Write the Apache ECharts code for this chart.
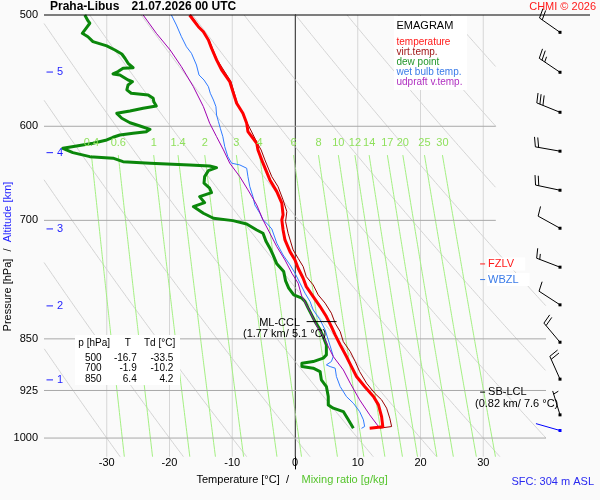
<!DOCTYPE html>
<html>
<head>
<meta charset="utf-8">
<title>Emagram Praha-Libus</title>
<script src="https://cdn.jsdelivr.net/npm/echarts@6/dist/echarts.min.js"></script>
<style>
  body { margin: 0; background: #fafafa; }
  #main { width: 600px; height: 500px; }
</style>
</head>
<body>
<div id="main"></div>
<script>
var myChart = echarts.init(document.getElementById('main'));
var FONT = '"Liberation Sans", Arial, sans-serif';

// sounding: T in °C, p in hPa
var tempP = [500,504.1,509.7,513.9,520.9,528.0,538.2,547.1,557.7,566.9,577.8,587.4,597.0,605.3,616.9,623.7,637.4,655.1,667.8,680.6,693.8,699.5,711.1,722.8,736.8,746.9,757.1,769.6,780.3,793.1,806.2,819.5,833.1,844.5,858.4,875.0,889.5,904.1,919.1,934.3,947.1,965.4,981.8,984.2];
var tempT = [-16.8,-16.2,-15.4,-14.6,-13.8,-13.3,-12.5,-11.7,-10.4,-9.9,-9.3,-8.3,-7.7,-7.5,-6.1,-5.9,-5.1,-4.0,-2.9,-2.1,-1.9,-2.1,-1.9,-1.6,-0.8,0.0,0.5,1.3,1.8,2.9,4.0,5.0,5.8,6.4,7.2,8.2,9.0,9.8,11.1,12.5,13.3,13.8,14.0,11.9];

var virtP = [500,509.7,520.9,538.2,557.7,577.8,597.0,616.9,623.7,634.0,651.6,662.4,676.9,690.0,701.4,714.9,734.7,744.9,755.1,767.6,778.1,790.9,801.7,815.0,828.4,840.0,853.9,867.9,882.2,896.8,914.0,929.1,939.3,952.2,967.9,981.3,983.9];
var virtT = [-16.6,-15.3,-13.7,-12.4,-10.2,-9.2,-7.6,-6.0,-5.4,-4.8,-3.7,-2.7,-1.9,-1.3,-1.5,-1.1,-0.3,0.5,1.3,1.8,2.9,3.7,4.8,5.8,6.4,7.2,7.7,8.8,9.6,10.3,11.4,12.7,13.8,14.6,15.1,15.4,13.5];

var dewP = [500,504.7,506.8,511.0,515.2,518.1,522.3,526.0,529.5,533.0,536.7,541.2,545.1,545.6,548.6,550.7,551.6,556.2,557.7,560.7,565.3,568.4,570.0,573.1,576.3,580.4,582.6,585.2,587.4,592.2,596.5,599.7,603.0,605.3,606.9,608.6,610.9,613.6,616.9,619.6,622.0,626.5,630.6,632.2,635.8,637.4,639.2,640.3,642.1,645.2,651.6,658.7,664.1,668.9,673.3,680.0,684.4,686.2,691.9,697.6,700.3,704.1,711.1,714.9,724.8,732.7,740.8,751.7,761.3,773.0,782.3,790.9,795.2,799.6,808.3,826.3,837.6,846.9,858.4,872.6,877.3,882.2,884.5,889.5,891.8,896.8,909.1,919.1,934.3,947.1,952.2,957.5,970.6,983.9];
var dewT = [-33.5,-33.0,-32.7,-33.3,-33.9,-33.0,-32.2,-30.0,-28.7,-27.6,-27.1,-26.6,-25.8,-27.4,-28.2,-29.0,-27.9,-26.6,-25.9,-26.6,-26.8,-26.1,-23.4,-22.6,-22.5,-22.1,-24.2,-26.3,-28.4,-27.6,-26.3,-24.7,-23.1,-23.7,-25.8,-27.9,-29.0,-30.0,-32.2,-34.8,-37.0,-35.4,-32.7,-29.0,-27.4,-23.1,-16.8,-13.6,-12.5,-13.8,-14.4,-14.5,-13.6,-13.3,-15.2,-14.4,-16.2,-16.3,-14.6,-13.0,-9.9,-7.7,-6.1,-5.1,-4.6,-4.0,-3.5,-2.9,-1.8,-1.5,-1.0,-0.2,1.1,1.6,2.1,3.2,4.0,4.5,5.0,5.0,4.5,2.9,1.1,1.1,2.9,4.0,4.2,5.0,5.3,5.3,6.1,7.7,8.5,9.3];

var wetP = [500,508.3,518.1,526.7,532.4,542.7,551.6,556.2,562.3,568.4,574.7,581.0,589.0,595.5,602.0,610.3,620.3,630.6,637.4,639.2,642.7,651.6,662.4,673.3,682.5,691.9,699.5,703.3,709.9,726.7,740.8,753.0,763.3,775.9,788.7,799.6,810.6,824.0,837.6,851.5,865.5,875.0,882.2,887.0,889.5,891.8,904.1,919.1,934.3,944.5,957.5,970.6,981.3,984.2];
var wetT = [-19.7,-18.9,-18.1,-17.3,-16.5,-15.7,-15.3,-14.5,-13.8,-13.5,-13.0,-12.6,-12.5,-12.2,-11.9,-11.5,-11.2,-10.7,-10.1,-8.8,-7.7,-7.5,-7.2,-6.7,-6.4,-5.6,-5.1,-4.5,-3.7,-2.9,-1.9,-0.8,0.0,0.8,1.6,2.4,2.9,4.0,4.8,5.3,5.8,6.1,5.8,5.0,5.6,6.4,6.6,7.2,8.2,9.3,10.3,10.9,11.1,10.6];

var updP = [500,515.2,529.5,544.2,562.3,581.0,597.0,610.3,623.7,637.4,651.6,665.9,682.5,699.5,714.9,730.8,746.9,763.3,775.9,793.1,812.9,830.8,846.9,875.0,894.3,914.0,939.3,962.7,983.9];
var updT = [-24.2,-22.1,-19.9,-18.1,-16.2,-14.6,-13.6,-12.5,-11.4,-10.4,-8.8,-7.5,-6.1,-5.1,-4.0,-2.9,-1.6,-0.5,0.5,1.1,2.4,3.4,4.5,6.1,7.7,8.8,10.3,11.9,13.5];

// wind barbs (last one = surface)
var windP = [514.4,549.2,586.4,625.0,666.3,709.1,755.8,803.9,854.7,908.0,962.7,987.7];
var windDir = [305,304,292,280,282,299,291,303,320,336,343,286];
var windSpd = [20,25,30,20,20,10,15,10,20,20,5,0];

// altitude marks
var altKm = [1,2,3,4,5];
var altP = [909.1,805.3,709.9,626.5,549.0];

// diagram furniture
var pLevels = [500,600,700,850,925,1000];
var xTicks = [-30,-20,-10,0,10,20,30];
var isoT = [-30,-20,-10,0,10,20,30];
var mixW = [0.4,0.6,1,1.4,2,3,4,6,8,10,12,14,17,20,25,30];
var thetaC = [-30,-20,-10,0,10,20,30,40,50,60,70,80,90,100];

// table
var tableP = ['500','700','850'];
var tableT = ['-16.7','-1.9','6.4'];
var tableTd = ['-33.5','-10.2','4.2'];

// levels
var lvlNames = ['FZLV','WBZL','SB-LCL'];
var lvlP = [751.8,771.3,927.5];
var lvlColors = ['#ff1a1a','#3a7be8','#000000'];
var cclP = 826.3, cclT = [1.85, 6.63];

var P_BOT = 1031;

function pairs(T, P) {
    return T.map(function (t, i) { return [t, P[i]]; });
}
// temperature where saturation mixing ratio equals w (g/kg)
function mixT(w, p) {
    var e = w / 1000 * p / (0.622 + w / 1000);
    var l = Math.log(e / 6.112);
    return 243.5 * l / (17.67 - l);
}
function rightT(p) { return p < 790 ? 32 : 40; }

var series = [];
function bgLine(data, color, z) {
    series.push({
        type: 'line', data: data, showSymbol: false, silent: true, animation: false,
        z: z || 1, lineStyle: { color: color, width: 1 }
    });
}
function curve(data, color, width, z) {
    series.push({
        type: 'line', data: data, showSymbol: false, silent: true, animation: false,
        z: z, lineStyle: { color: color, width: width, join: 'round' }
    });
}
function texts(coords, labels, fill, size, align, dx, dy, extra) {
    series.push({
        type: 'custom', data: coords, silent: true, animation: false, z: 20,
        renderItem: function (params, api) {
            var pt = api.coord([api.value(0), api.value(1)]);
            var st = { text: labels[params.dataIndex], fill: fill, font: size + 'px ' + FONT,
                align: align, verticalAlign: 'middle' };
            if (extra) Object.assign(st, extra);
            return { type: 'text', x: pt[0] + dx, y: pt[1] + dy, style: st };
        }
    });
}

// isotherms
isoT.forEach(function (t) {
    bgLine([[t, 500], [t, P_BOT]], t === 0 ? '#9a9a9a' : '#d6d6d6', t === 0 ? 3 : 1);
});
// dry adiabats
thetaC.forEach(function (th) {
    var d = [];
    for (var p = 500; p <= P_BOT; p += 1) {
        var t = (th + 273.15) * Math.pow(p / 1000, 0.286) - 273.15;
        if (t >= -40 && t <= rightT(p)) d.push([t, p]);
    }
    if (d.length > 1) bgLine(d, '#d4d4d4', 1);
});
// mixing ratio lines
mixW.forEach(function (w) {
    var d = [];
    for (var p = 629; p <= P_BOT; p += 3) d.push([mixT(w, p), p]);
    bgLine(d, '#a4f082', 2);
});
// isobars
pLevels.slice(1).forEach(function (p) {
    bgLine([[-40, p], [rightT(p), p]], '#a8a8a8', 3);
});

// profiles
curve(pairs(dewT, dewP), '#0b870b', 3, 6);
curve(pairs(wetT, wetP), '#2f7bff', 1, 7);
curve(pairs(updT, updP), '#a000b0', 1, 7);
curve(pairs(virtT, virtP), '#9a0000', 1, 8);
curve(pairs(tempT, tempP), '#ff0000', 3, 9);
curve([[cclT[0], cclP], [cclT[1], cclP]], '#000000', 1, 10);

// axis labels
texts(pLevels.map(function (p) { return [-40, p]; }), pLevels.map(String), '#000', 11, 'right', -6, 0);
texts(xTicks.map(function (t) { return [t, 1052]; }), xTicks.map(String), '#000', 11, 'center', 0, -6.5);
texts(mixW.map(function (w) { return [mixT(w, 629), 617]; }), mixW.map(String), '#8fe05c', 11, 'center', 0, 0);

// ML-CCL
texts([[cclT[0], cclP], [cclT[0], cclP]], ['ML-CCL', '(1.77 km/ 5.1 °C)'], '#000', 11, 'center', -25, 0);
series[series.length - 1].renderItem = (function (lbl) {
    return function (params, api) {
        var pt = api.coord([api.value(0), api.value(1)]);
        var i = params.dataIndex;
        return { type: 'text', x: pt[0] + (i ? -22 : -27), y: pt[1] + (i ? 12.5 : 1.5),
            style: { text: lbl[i], fill: '#000', font: '11px ' + FONT, align: 'center', verticalAlign: 'middle' } };
    };
})(['ML-CCL', '(1.77 km/ 5.1 °C)']);

// level markers (FZLV, WBZL, SB-LCL)
series.push({
    type: 'custom', silent: true, animation: false, z: 20,
    data: lvlP.map(function (p) { return [29.5, p]; }),
    renderItem: function (params, api) {
        var i = params.dataIndex;
        var pt = api.coord([api.value(0), api.value(1)]);
        var kids = [
            { type: 'line', shape: { x1: pt[0], y1: pt[1], x2: pt[0] + 5, y2: pt[1] }, style: { stroke: lvlColors[i], lineWidth: 1 } },
            { type: 'text', x: pt[0] + 7, y: pt[1], style: { text: lvlNames[i], fill: lvlColors[i], font: '11px ' + FONT,
                align: 'left', verticalAlign: 'middle', backgroundColor: i < 2 ? '#ffffff' : null, padding: [1, 11, 1, 1] } }
        ];
        if (i === 2) {
            kids.push({ type: 'text', x: pt[0] + 36.5, y: pt[1] + 12, style: { text: '(0.82 km/ 7.6 °C)', fill: '#000',
                font: '11px ' + FONT, align: 'center', verticalAlign: 'middle' } });
        }
        return { type: 'group', children: kids };
    }
});

// altitude ticks
series.push({
    type: 'custom', silent: true, animation: false, z: 20,
    data: altP.map(function (p) { return [-40, p]; }),
    renderItem: function (params, api) {
        var pt = api.coord([api.value(0), api.value(1)]);
        return { type: 'group', children: [
            { type: 'line', shape: { x1: pt[0] + 2.5, y1: pt[1], x2: pt[0] + 9, y2: pt[1] }, style: { stroke: '#1f1fff', lineWidth: 1 } },
            { type: 'text', x: pt[0] + 13, y: pt[1], style: { text: String(altKm[params.dataIndex]), fill: '#1f1fff',
                font: '11px ' + FONT, align: 'left', verticalAlign: 'middle' } }
        ] };
    }
});

// wind barbs
series.push({
    type: 'custom', silent: true, animation: false, z: 20,
    data: windP.map(function (p) { return [40, p]; }),
    renderItem: function (params, api) {
        var i = params.dataIndex;
        var pt = api.coord([api.value(0), api.value(1)]);
        var x = pt[0] + 14, y = pt[1];
        var col = i === windP.length - 1 ? '#0000ff' : '#000000';
        var a = windDir[i] * Math.PI / 180;
        var ux = Math.sin(a), uy = -Math.cos(a);
        var ex = x + ux * 25, ey = y + uy * 25;
        var ba = Math.atan2(uy, ux) + 75 * Math.PI / 180;
        var bx = Math.cos(ba), by = Math.sin(ba);
        var kids = [
            { type: 'line', shape: { x1: x, y1: y, x2: ex, y2: ey }, style: { stroke: col, lineWidth: 1 } },
            { type: 'rect', shape: { x: x - 1.5, y: y - 1.5, width: 3, height: 3 }, style: { fill: col } }
        ];
        var full = Math.floor(windSpd[i] / 10), half = windSpd[i] % 10 >= 5;
        var k = 0;
        for (; k < full; k++) {
            var sx = ex - ux * 3.3 * k, sy = ey - uy * 3.3 * k;
            kids.push({ type: 'line', shape: { x1: sx, y1: sy, x2: sx + bx * 10, y2: sy + by * 10 }, style: { stroke: col, lineWidth: 1 } });
        }
        if (half) {
            if (k === 0) k = 1;
            var hx = ex - ux * 3.3 * k, hy = ey - uy * 3.3 * k;
            kids.push({ type: 'line', shape: { x1: hx, y1: hy, x2: hx + bx * 5.5, y2: hy + by * 5.5 }, style: { stroke: col, lineWidth: 1 } });
        }
        return { type: 'group', children: kids };
    }
});

function txt(x, y, s, fill, font, align, extra) {
    var o = { type: 'text', x: x, y: y, z: 50, silent: true,
        style: { text: s, fill: fill, font: font || ('11px ' + FONT), align: align || 'left', verticalAlign: 'middle' } };
    if (extra) Object.assign(o, extra);
    return o;
}

var option = {
    backgroundColor: '#fafafa',
    animation: false,
    grid: { left: 44, right: 54, top: 15, bottom: 31, outerBoundsMode: 'none' },
    xAxis: {
        type: 'value', min: -40, max: 40,
        axisLine: { show: false }, axisTick: { show: false },
        axisLabel: { show: false }, splitLine: { show: false }
    },
    yAxis: {
        type: 'log', min: 500, max: 1052, inverse: true, logBase: 10,
        axisLine: { show: true, lineStyle: { color: '#000', width: 1 } },
        axisTick: { show: false }, axisLabel: { show: false },
        splitLine: { show: false }, minorTick: { show: false }
    },
    series: series
};
myChart.setOption(option);

// frame line and page texts
var tl = myChart.convertToPixel({ gridIndex: 0 }, [-40, 500]);
var g = [];
g.push({ type: 'line', z: 50, silent: true, shape: { x1: tl[0], y1: tl[1], x2: 590, y2: tl[1] }, style: { stroke: '#000', lineWidth: 1 } });
g.push(txt(50, 7, 'Praha-Libus', '#000', 'bold 12px ' + FONT));
g.push(txt(131.5, 7, '21.07.2026 00 UTC', '#000', 'bold 12px ' + FONT));
g.push(txt(596, 7, 'CHMI © 2026', '#ff1a1a', '11px ' + FONT, 'right'));
// y title
g.push(txt(7.5, 295, 'Pressure [hPa]', '#000', '11px ' + FONT, 'center', { rotation: Math.PI / 2 }));
g.push(txt(7.5, 250, '/', '#000', '11px ' + FONT, 'center', { rotation: Math.PI / 2 }));
g.push(txt(7.5, 212, 'Altitude [km]', '#1f1fff', '11px ' + FONT, 'center', { rotation: Math.PI / 2 }));
// x title
g.push(txt(196.5, 479.5, 'Temperature [°C]', '#000'));
g.push(txt(286, 479.5, '/', '#000'));
g.push(txt(301.5, 479.5, 'Mixing ratio [g/kg]', '#55c42c'));
g.push(txt(511.5, 481.5, 'SFC: 304 m ASL', '#2a2af0'));
// legend box
g.push({ type: 'rect', z: 45, silent: true, shape: { x: 394, y: 16, width: 73, height: 74 }, style: { fill: '#ffffff' } });
g.push(txt(396.5, 26, 'EMAGRAM', '#000', '11px ' + FONT));
var legNames = ['temperature', 'virt.temp.', 'dew point', 'wet bulb temp.', 'udpraft v.temp.'];
var legColors = ['#ff1a1a', '#a01818', '#22962a', '#3a7be8', '#b030c0'];
var legY = [42.3, 52.3, 62, 72, 82.3];
legNames.forEach(function (s, i) { g.push(txt(396.5, legY[i], s, legColors[i], '10px ' + FONT)); });
// table
g.push({ type: 'rect', z: 45, silent: true, shape: { x: 75, y: 335, width: 105, height: 50 }, style: { fill: '#ffffff' } });
g.push(txt(78.3, 343.3, 'p [hPa]', '#000', '10px ' + FONT));
g.push(txt(127.7, 343.3, 'T', '#000', '10px ' + FONT, 'center'));
g.push(txt(144, 343.3, 'Td [°C]', '#000', '10px ' + FONT));
var rowY = [358.3, 368.5, 378.8];
tableP.forEach(function (s, i) {
    g.push(txt(93.3, rowY[i], s, '#000', '10px ' + FONT, 'center'));
    g.push(txt(136.7, rowY[i], tableT[i], '#000', '10px ' + FONT, 'right'));
    g.push(txt(173.3, rowY[i], tableTd[i], '#000', '10px ' + FONT, 'right'));
});
myChart.setOption({ graphic: g });
</script>
</body>
</html>
